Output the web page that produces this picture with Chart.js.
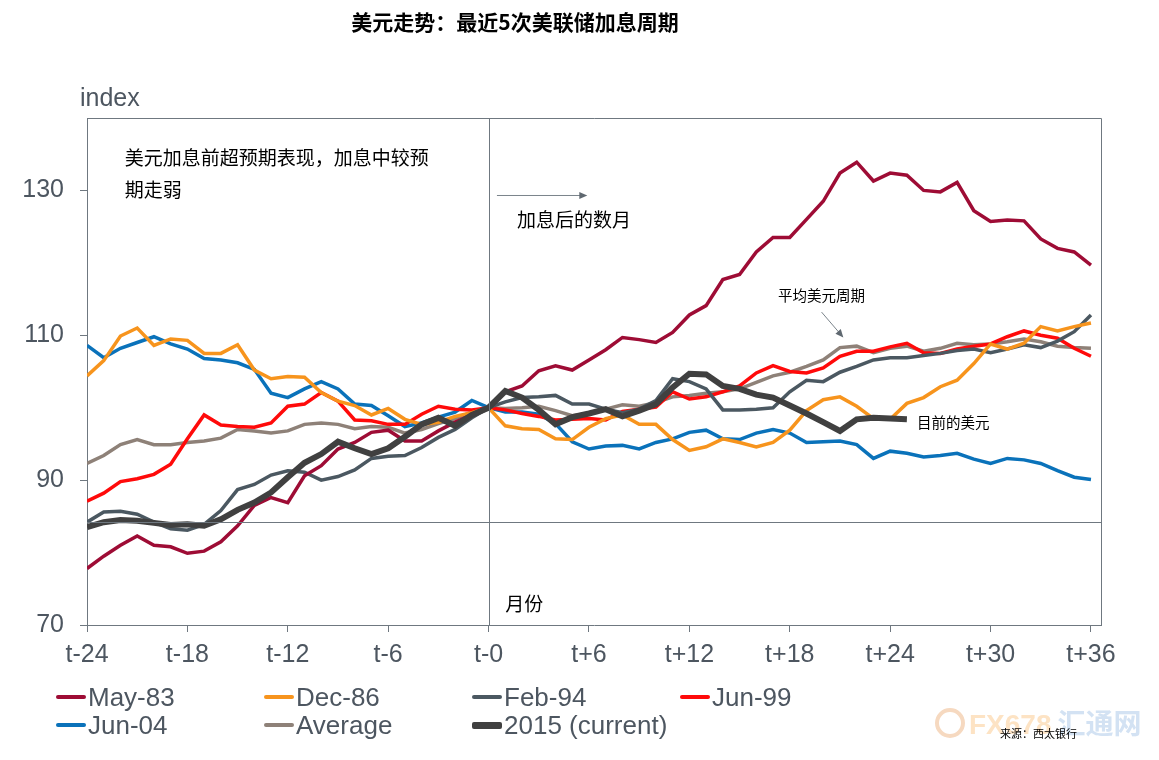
<!DOCTYPE html>
<html>
<head>
<meta charset="utf-8">
<script src="https://cdn.jsdelivr.net/npm/chart.js@4.4.1/dist/chart.umd.min.js"></script>
<style>
  body { margin: 0; background: #fff; width: 1159px; height: 760px; overflow: hidden; position: relative; }
  #title { position: absolute; left: 0; width: 1030px; top: 6px; text-align: center; font: bold 21px "Noto Sans CJK SC", sans-serif; color: #000; }
  #wrap { position: absolute; left: 0; top: 0; width: 1159px; height: 760px; }
  #yTitle { position: absolute; left: 80px; top: 83px; font: 25px "Liberation Sans", Arial, sans-serif; color: #4d5660; }
  #legend { position: absolute; left: 56px; top: 683px; display: grid; grid-template-columns: repeat(4, 208px); grid-auto-rows: 28px; font: 26px "Liberation Sans", Arial, sans-serif; color: #4d5660; }
  #legend div { display: flex; align-items: center; white-space: nowrap; }
  #legend span.sw { display: inline-block; width: 30px; margin-right: 2px; border-radius: 2px; }
  #source { position: absolute; left: 1000px; top: 725px; font: 11px "Noto Sans CJK SC", sans-serif; color: #000; }
  #mark { position: absolute; left: 935px; top: 702px; white-space: nowrap; font: bold 28px "Liberation Sans", Arial, sans-serif; }
  #mark .logo { display: inline-block; width: 22px; height: 22px; border: 4px solid #f6d9c0; border-radius: 50%; vertical-align: -4px; margin-right: 4px; }
</style>
</head>
<body>
<div id="wrap"><canvas id="chart" width="1159" height="760"></canvas></div>
<div id="title">美元走势：最近5次美联储加息周期</div>
<div id="yTitle">index</div>
<div id="legend"></div>
<div id="mark"><span class="logo"></span><span style="color:#fde3c4">FX678</span><span style="color:#d3e2f3;font-family:'Noto Sans CJK SC';margin-left:6px">汇通网</span></div>
<div id="source">来源：西太银行</div>
<script>
// months relative to the first hike (t-24 .. t+36)
const months = Array.from({ length: 61 }, (_, i) => i - 24);

const xTickValues = [-24, -18, -12, -6, 0, 6, 12, 18, 24, 30, 36];
const xLabels = ["t-24", "t-18", "t-12", "t-6", "t-0", "t+6", "t+12", "t+18", "t+24", "t+30", "t+36"];
const yTicks = [70, 90, 110, 130];

const may83 = [77.8, 79.5, 81.0, 82.3, 81.0, 80.8, 79.9, 80.2, 81.5, 83.7, 86.5,
  87.6, 86.9, 90.6, 92.0, 94.3, 95.2, 96.6, 96.9, 95.4, 95.4,
  96.8, 98.0, 99.0, 100, 102.2, 103.0, 105.1, 105.8, 105.2, 106.6,
  108.0, 109.7, 109.4, 109.0, 110.4, 112.8, 114.1, 117.7, 118.4, 121.5,
  123.5, 123.5, 126.0, 128.5, 132.4, 133.9, 131.3, 132.4, 132.1, 130.0,
  129.8, 131.1, 127.2, 125.7, 125.9, 125.8, 123.3, 122.0, 121.5, 119.7];
const dec86 = [104.4, 106.5, 109.9, 111.0, 108.6, 109.5, 109.3, 107.5, 107.5, 108.7, 105.2,
  104.0, 104.3, 104.2, 102.1, 100.9, 100.3, 99.0, 99.9, 98.4, 97.7,
  98.0, 98.8, 99.3, 100, 97.5, 97.1, 97.0, 95.7, 95.6, 97.3,
  98.5, 99.0, 97.7, 97.7, 95.6, 94.1, 94.6, 95.7, 95.2, 94.6,
  95.2, 96.9, 99.6, 101.1, 101.5, 100.2, 98.5, 98.4, 100.6, 101.4,
  102.9, 103.8, 106.1, 108.8, 108.1, 108.9, 111.2, 110.6, 111.2, 111.7];
const feb94 = [84.2, 85.6, 85.7, 85.3, 84.2, 83.3, 83.1, 83.9, 85.8, 88.7, 89.4,
  90.7, 91.3, 91.1, 90.0, 90.5, 91.4, 93.0, 93.3, 93.4, 94.5,
  95.9, 97.0, 98.6, 100, 100.8, 101.4, 101.5, 101.7, 100.5, 100.5,
  99.8, 99.3, 99.8, 101.0, 104.0, 103.6, 102.6, 99.7, 99.7, 99.8,
  100.0, 102.2, 103.8, 103.6, 104.9, 105.7, 106.6, 106.9, 106.9, 107.2,
  107.5, 107.9, 108.1, 107.6, 108.1, 108.7, 108.3, 109.2, 110.5, 112.8];
const jun99 = [87.1, 88.2, 89.8, 90.2, 90.8, 92.2, 95.7, 99.0, 97.6, 97.4, 97.3,
  97.9, 100.2, 100.5, 102.1, 100.9, 98.3, 98.2, 97.7, 97.7, 99.1,
  100.2, 99.8, 99.7, 100, 99.7, 99.2, 98.8, 98.3, 98.4, 98.5,
  98.3, 99.5, 99.8, 100.1, 102.2, 101.2, 101.5, 102.2, 103.0, 104.8,
  105.8, 105.0, 104.8, 105.5, 107.1, 107.8, 107.8, 108.4, 108.9, 107.6,
  107.5, 108.1, 108.5, 108.8, 109.8, 110.6, 110.0, 109.6, 108.2, 107.1];
const jun04 = [108.6, 106.9, 108.2, 109.0, 109.8, 108.8, 108.1, 106.8, 106.6, 106.2, 105.3,
  102.0, 101.4, 102.6, 103.6, 102.6, 100.5, 100.3, 98.9, 97.4, 97.9,
  98.7, 99.4, 101.0, 100, 99.4, 99.4, 99.1, 97.8, 95.3, 94.3,
  94.7, 94.8, 94.3, 95.2, 95.7, 96.6, 96.9, 95.7, 95.6, 96.5,
  97.0, 96.5, 95.2, 95.3, 95.4, 94.9, 93.0, 94.0, 93.7, 93.2,
  93.4, 93.7, 92.9, 92.3, 93.0, 92.8, 92.3, 91.3, 90.4, 90.1];
const average = [92.3, 93.4, 94.9, 95.6, 94.9, 94.9, 95.2, 95.4, 95.8, 97.0, 96.8,
  96.5, 96.8, 97.7, 97.9, 97.7, 97.1, 97.4, 97.3, 96.5, 97.0,
  97.8, 98.5, 99.4, 100, 99.9, 100.0, 100.2, 99.6, 98.9, 99.2,
  99.8, 100.4, 100.2, 100.7, 101.5, 101.7, 102.0, 102.2, 102.6, 103.5,
  104.4, 104.9, 105.7, 106.6, 108.3, 108.5, 107.6, 108.2, 108.5, 107.8,
  108.2, 108.9, 108.7, 108.8, 109.1, 109.5, 109.1, 108.5, 108.3, 108.2];
const cur2015 = [83.5, 84.2, 84.5, 84.4, 84.1, 83.8, 83.9, 83.7, 84.6, 85.9, 86.9,
  88.3, 90.4, 92.4, 93.6, 95.3, 94.4, 93.6, 94.4, 96.0, 97.7,
  98.6, 97.5, 99.0, 100, 102.3, 101.4, 99.7, 97.7, 98.7, 99.2,
  99.8, 98.8, 99.6, 100.5, 102.8, 104.7, 104.6, 103.0, 102.6, 101.8,
  101.4, 100.3, 99.2, 98.0, 96.8, 98.4, 98.6, 98.5, 98.4];

const refLevel = 84.2; // horizontal reference line

const series = [
  { label: "May-83", data: may83, color: "#9e0c35", width: 3.5 },
  { label: "Dec-86", data: dec86, color: "#f7941d", width: 3.5 },
  { label: "Feb-94", data: feb94, color: "#4b5861", width: 3.5 },
  { label: "Jun-99", data: jun99, color: "#ff0a0a", width: 3.5 },
  { label: "Jun-04", data: jun04, color: "#0a72ba", width: 3.5 },
  { label: "Average", data: average, color: "#8e8178", width: 3.5 },
  { label: "2015 (current)", data: cur2015, color: "#404040", width: 6 }
];

// notes placed in data coordinates
const notes = [
  { text: "美元加息前超预期表现，加息中较预", x: -21.75, y: 134.5, size: 19 },
  { text: "期走弱", x: -21.75, y: 130.1, size: 19 },
  { text: "加息后的数月", x: 1.7, y: 125.9, size: 19 },
  { text: "月份", x: 1.0, y: 72.9, size: 19 },
  { text: "平均美元周期", x: 17.3, y: 115.5, size: 14.5 },
  { text: "目前的美元", x: 25.6, y: 97.9, size: 14.5 }
];
const arrows = [
  { x1: 0.5, y1: 129.3, x2: 5.9, y2: 129.3 },
  { x1: 19.9, y1: 113.2, x2: 21.2, y2: 109.7 }
];

const gray = "#6f7880";

const extras = {
  id: "extras",
  afterDatasetsDraw(chart) {
    const { ctx, chartArea: a, scales: { x, y } } = chart;
    ctx.save();
    ctx.strokeStyle = gray;
    ctx.lineWidth = 1;
    // top and right frame
    ctx.beginPath();
    ctx.moveTo(a.left, a.top + 0.5);
    ctx.lineTo(a.right + 0.5, a.top + 0.5);
    ctx.lineTo(a.right + 0.5, a.bottom);
    ctx.stroke();
    // t-0 line and reference level
    ctx.beginPath();
    const x0 = Math.round(x.getPixelForValue(0)) + 0.5;
    ctx.moveTo(x0, a.top);
    ctx.lineTo(x0, a.bottom);
    const yr = Math.round(y.getPixelForValue(refLevel)) + 0.5;
    ctx.moveTo(a.left, yr);
    ctx.lineTo(a.right, yr);
    ctx.stroke();

    // arrows
    ctx.strokeStyle = "#7b848b";
    ctx.fillStyle = "#5f6870";
    arrows.forEach(ar => {
      const px1 = x.getPixelForValue(ar.x1), py1 = y.getPixelForValue(ar.y1);
      const px2 = x.getPixelForValue(ar.x2), py2 = y.getPixelForValue(ar.y2);
      const ang = Math.atan2(py2 - py1, px2 - px1);
      ctx.beginPath();
      ctx.moveTo(px1, py1);
      ctx.lineTo(px2 - 6 * Math.cos(ang), py2 - 6 * Math.sin(ang));
      ctx.stroke();
      ctx.beginPath();
      ctx.moveTo(px2, py2);
      ctx.lineTo(px2 - 8 * Math.cos(ang) + 3.5 * Math.sin(ang), py2 - 8 * Math.sin(ang) - 3.5 * Math.cos(ang));
      ctx.lineTo(px2 - 8 * Math.cos(ang) - 3.5 * Math.sin(ang), py2 - 8 * Math.sin(ang) + 3.5 * Math.cos(ang));
      ctx.closePath();
      ctx.fill();
    });

    // notes
    ctx.fillStyle = "#000";
    ctx.textBaseline = "middle";
    ctx.textAlign = "left";
    notes.forEach(n => {
      ctx.font = n.size + "px 'Noto Sans CJK SC', sans-serif";
      ctx.fillText(n.text, x.getPixelForValue(n.x), y.getPixelForValue(n.y));
    });
    ctx.restore();
  }
};

const ctx = document.getElementById("chart").getContext("2d");
new Chart(ctx, {
  type: "line",
  data: {
    datasets: series.map((s, i) => ({
      label: s.label,
      data: s.data.map((v, j) => ({ x: months[j], y: v })),
      borderColor: s.color,
      backgroundColor: s.color,
      borderWidth: s.width,
      pointRadius: 0,
      tension: 0,
      order: i === 6 ? -1 : i
    }))
  },
  options: {
    responsive: false,
    animation: false,
    layout: { padding: { top: 118, right: 58, left: 0, bottom: 75 } },
    plugins: { legend: { display: false }, tooltip: { enabled: false } },
    scales: {
      x: {
        type: "linear",
        min: -24,
        max: 36.6,
        afterBuildTicks: sc => { sc.ticks = xTickValues.map(v => ({ value: v })); },
        afterFit: sc => { sc.height = 60; },
        ticks: {
          autoSkip: false,
          maxRotation: 0,
          padding: 8,
          color: "#4d5660",
          font: { family: "'Liberation Sans', Arial, sans-serif", size: 25 },
          callback: (v) => xLabels[xTickValues.indexOf(v)]
        },
        grid: { drawOnChartArea: false, drawTicks: true, tickLength: 7, color: gray },
        border: { color: gray }
      },
      y: {
        min: 70,
        max: 140,
        afterBuildTicks: sc => { sc.ticks = yTicks.map(v => ({ value: v })); },
        afterFit: sc => { sc.width = 87; },
        ticks: {
          padding: 16,
          color: "#4d5660",
          font: { family: "'Liberation Sans', Arial, sans-serif", size: 25 }
        },
        grid: { drawOnChartArea: false, drawTicks: true, tickLength: 7, color: gray },
        border: { color: gray }
      }
    }
  },
  plugins: [extras]
});

// legend
const legend = document.getElementById("legend");
series.forEach(s => {
  const d = document.createElement("div");
  d.innerHTML = `<span class="sw" style="background:${s.color};height:${s.width === 6 ? 7 : 4}px"></span>${s.label}`;
  legend.appendChild(d);
});
</script>
</body>
</html>
